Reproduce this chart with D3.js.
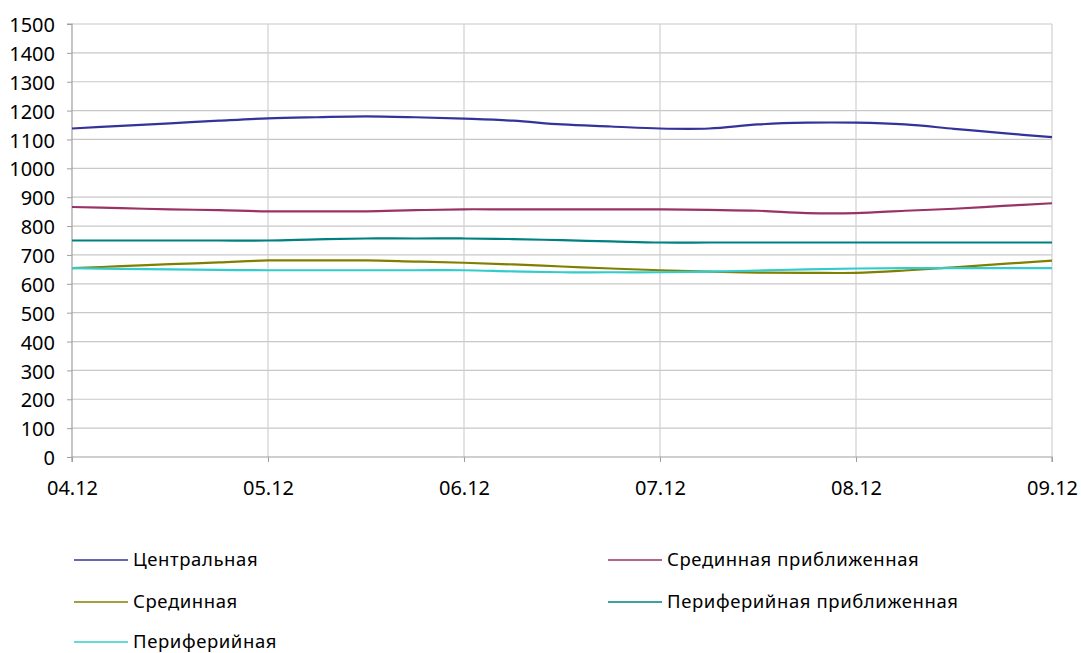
<!DOCTYPE html>
<html><head><meta charset="utf-8">
<script src="https://cdn.jsdelivr.net/npm/d3@7"></script>
<style>
html,body{margin:0;padding:0;background:#fff;}
svg{display:block;font-family:"Noto Sans","Open Sans",sans-serif;}
</style></head>
<body><svg id="c" width="1082" height="653"></svg>
<script>
// Quarter-day sample positions (index / 4 = days after 04.12)
const steps = d3.range(21);
const dayLabels = ["04.12","05.12","06.12","07.12","08.12","09.12"];
const yTicks = d3.range(0, 1501, 100);

const seriesNames = ["Центральная","Срединная приближенная","Срединная","Периферийная приближенная","Периферийная"];
const seriesColors = ["#333399","#993366","#808000","#008080","#33CCCC"];

const central      = [1138,1147,1156,1165,1173,1177,1180,1177,1172,1165,1152,1145,1138,1138,1152,1158,1158,1152,1137,1122,1108];
const midNear      = [866,862,858,855,851,851,851,855,858,858,858,858,858,856,853,845,845,853,860,870,879];
const mid          = [654,661,668,674,681,681,681,677,673,667,660,653,647,642,639,638,638,646,657,669,680];
const periphNear   = [750,750,750,750,750,754,757,757,757,755,751,747,743,743,743,743,743,743,743,743,743];
const periph       = [654,652,650,648,647,647,647,647,647,643,640,640,640,642,646,650,653,654,654,654,654];

const seriesValues = [central, midNear, mid, periphNear, periph];

(function draw() {
const svg = d3.select("#c");
const mL = 72, mR = 1052, mT = 24, mB = 457;
const font = '"Noto Sans","Open Sans",sans-serif';

const x = d3.scaleLinear().domain([0, 20]).range([mL, mR]);
const y = d3.scaleLinear().domain([0, 1500]).range([mB, mT]);

// horizontal gridlines
svg.append("g").selectAll("line").data(yTicks.filter(v => v > 0)).join("line")
  .attr("x1", mL).attr("x2", mR)
  .attr("y1", d => y(d)).attr("y2", d => y(d))
  .attr("stroke", "#c8c8c8").attr("stroke-width", 1.2);

// vertical gridlines
svg.append("g").selectAll("line").data(d3.range(1, 6)).join("line")
  .attr("x1", d => x(d * 4)).attr("x2", d => x(d * 4))
  .attr("y1", mT).attr("y2", mB)
  .attr("stroke", "#d0d0d0").attr("stroke-width", 1.2);

// Y axis
const yAxis = d3.axisLeft(y).tickValues(yTicks).tickFormat(d3.format("d")).tickSize(5).tickPadding(12);
const gy = svg.append("g").attr("transform", `translate(${mL},0)`).call(yAxis);
gy.select(".domain").attr("stroke", "#a0a0a0").attr("stroke-width", 1.2).attr("d", `M-5,${mT}H0V${mB}`);
gy.selectAll(".tick line").attr("stroke", "#a0a0a0");
gy.selectAll(".tick text").attr("font-size", 20).attr("fill", "#000")
  .attr("font-family", font).attr("dy", "0.38em");

// X axis
const xAxis = d3.axisBottom(x).tickValues(d3.range(0, 21, 4))
  .tickFormat((d, i) => dayLabels[i]).tickSize(5).tickPadding(19);
const gx = svg.append("g").attr("transform", `translate(0,${mB})`).call(xAxis);
gx.select(".domain").attr("stroke", "#a0a0a0").attr("stroke-width", 1.2).attr("d", `M${mL},5V0H${mR}V5`);
gx.selectAll(".tick line").attr("stroke", "#a0a0a0");
gx.selectAll(".tick text").attr("font-size", 20).attr("fill", "#000")
  .attr("font-family", font);

// lines
const line = d3.line().x((d, i) => x(steps[i])).y(d => y(d)).curve(d3.curveCatmullRom.alpha(0.5));
svg.append("g").selectAll("path").data(seriesValues).join("path")
  .attr("d", d => line(d))
  .attr("fill", "none")
  .attr("stroke", (d, i) => seriesColors[i])
  .attr("stroke-width", 2.2);

// legend
const legendPos = [[74, 560], [608, 560], [74, 602], [608, 602], [74, 642]];
const lg = svg.append("g").selectAll("g").data(seriesNames).join("g")
  .attr("transform", (d, i) => `translate(${legendPos[i][0]},${legendPos[i][1]})`);
lg.append("line").attr("x1", 0).attr("x2", 54).attr("y1", 0).attr("y2", 0)
  .attr("stroke", (d, i) => seriesColors[i]).attr("stroke-width", 1.6);
lg.append("text").attr("x", 59).attr("y", 0).attr("dy", "0.34em")
  .attr("font-size", 18.5).attr("letter-spacing", 0.6).attr("fill", "#000").attr("font-family", font).text(d => d);
})();
</script></body></html>
